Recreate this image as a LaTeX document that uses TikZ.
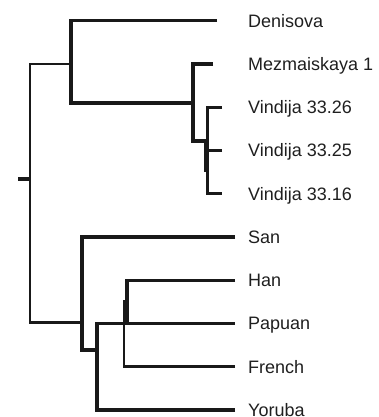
\documentclass[tikz,border=0pt]{standalone}
\usepackage{fontspec}
\setmainfont{Liberation Sans}
\tikzset{
    leaf/.style={anchor=base west, inner sep=0pt, font=\fontsize{18}{21}\selectfont, text=black!88},
    branch/.style={line width=3.4pt, draw=black!90, line cap=butt},
    overlap/.style={line width=5pt, draw=black!90}
}
\begin{document}
\begin{tikzpicture}[x=1pt, y=-1pt]
        \useasboundingbox (0,0) rectangle (378,417);
        \def\dy{43.26}
        % leaves and the ends of their branches
        \foreach \name/\txt/\tip [count=\i from 0] in {den/Denisova/217, mez/Mezmaiskaya 1/213,
            vsix/Vindija 33.26/222, vfive/Vindija 33.25/222, vone/Vindija 33.16/222,
            san/San/235, han/Han/235, pap/Papuan/235, fre/French/235, yor/Yoruba/235} {
            \node[leaf] (\name) at (248, {27.1 + \dy*\i}) {\txt};
            \coordinate (\name tip) at (\tip, {20.7 + \dy*\i});
        }
        % inner nodes
        \coordinate (stub) at (18,179);
        \coordinate (anc) at (30,179);
        \coordinate (arch) at (71,64);
        \coordinate (nean) at (193,103);
        \coordinate (vind) at (207.5,141);
        \coordinate (mod) at (82,322.7);
        \coordinate (afr) at (97,350);
        \coordinate (nonafr) at (124,300);
        \coordinate (hp) at (127,322.7);
        % archaic side
        \draw[branch] (stub) -- (anc);
        \draw[branch, line width=2.8pt] (arch) -| (anc) |- (mod);
        \draw[branch] (dentip) -| (arch) |- (nean);
        \draw[branch] (meztip) -| (nean) |- (vind);
        \draw[branch] (vsixtip) -| (vind) |- (vonetip);
        \draw[branch] (vfivetip) -- (vfivetip -| vind);
        \draw[overlap] ([xshift=-1pt]vind) -- ([xshift=-1pt]vind |- 0,172);
        % modern side
        \draw[branch] (santip) -| (mod) |- (afr);
        \draw[branch] (yortip) -| (afr) |- (paptip);
        \draw[branch] (hantip) -| (hp);
        \draw[branch, line width=2.8pt] (fretip) -| (nonafr);
        \draw[overlap] ([xshift=1pt]nonafr) -- ([xshift=1pt]nonafr |- hp);
    \end{tikzpicture}
\end{document}
